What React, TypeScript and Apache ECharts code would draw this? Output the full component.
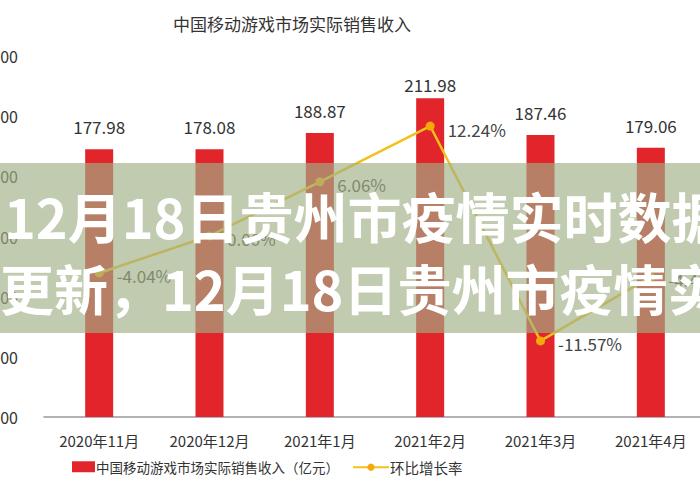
import React, { useEffect, useRef } from "react";
import * as echarts from "echarts";

const categories = ["2020年11月", "2020年12月", "2021年1月", "2021年2月", "2021年3月", "2021年4月"];
const revenue = [177.98, 178.08, 188.87, 211.98, 187.46, 179.06];
const growth = [-4.04, 0.06, 6.06, 12.24, -11.57, -4.48];
const leftTicks = { min: 0, max: 240, interval: 40 };
const titleText = "中国移动游戏市场实际销售收入";
const barName = "中国移动游戏市场实际销售收入（亿元）";
const lineName = "环比增长率";
const bannerLine1 = "12月18日贵州市疫情实时数据";
const bannerLine2 = "更新，12月18日贵州市疫情实";

const FONT = "'Noto Sans CJK SC', 'Noto Sans', sans-serif";

export default function App() {
  const ref = useRef<HTMLDivElement>(null);
  useEffect(() => {
    if (!ref.current) return;
    const chart = echarts.init(ref.current, null, { renderer: "svg" });
    chart.setOption({
      animation: false,
      backgroundColor: "#ffffff",
      textStyle: { fontFamily: FONT },
      title: {
        text: titleText,
        left: 168,
        top: 10,
        textStyle: { fontSize: 17, fontWeight: "normal", color: "#333", fontFamily: FONT },
      },
      legend: [
        {
          data: [barName],
          left: 72,
          top: 460,
          padding: 0,
          itemWidth: 23,
          itemHeight: 11,
          icon: "rect",
          textStyle: { fontSize: 13.5, color: "#333", fontFamily: FONT, padding: [0, 0, 0, -4] },
        },
        {
          data: [lineName],
          left: 352,
          top: 460,
          padding: 0,
          itemWidth: 36,
          itemHeight: 9,
          textStyle: { fontSize: 14.5, color: "#333", fontFamily: FONT, padding: [0, 0, 0, -4] },
        },
      ],
      grid: { left: 44, top: 56, width: 662, height: 361, outerBoundsMode: "none", containLabel: false },
      xAxis: {
        type: "category",
        data: categories,
        axisTick: { show: false },
        axisLine: { lineStyle: { color: "#9c96a0", width: 1.5 } },
        axisLabel: { color: "#333", fontSize: 15, margin: 16, fontFamily: FONT },
      },
      yAxis: [
        {
          type: "value",
          min: leftTicks.min,
          max: leftTicks.max,
          interval: leftTicks.interval,
          splitLine: { show: false },
          axisLine: { show: false },
          axisTick: { show: false },
          axisLabel: {
            color: "#333",
            fontSize: 16,
            margin: 26,
            formatter: (v: number) => v.toFixed(2),
          },
        },
        { type: "value", min: -20, max: 20, show: false },
      ],
      series: [
        {
          name: barName,
          type: "bar",
          data: revenue.map((v, i) => (i === 3 ? { value: v, label: { distance: 5 } } : v)),
          barWidth: 28,
          itemStyle: { color: "#e1252b" },
          label: {
            show: true,
            position: "top",
            distance: 14,
            color: "#333",
            fontSize: 17,
            fontFamily: FONT,
          },
        },
        {
          name: lineName,
          type: "line",
          yAxisIndex: 1,
          data: growth,
          symbol: "circle",
          symbolSize: 9,
          lineStyle: { color: "#f2c21c", width: 2.5 },
          itemStyle: { color: "#f5a80a" },
          label: {
            show: true,
            position: "right",
            offset: [8, 3],
            color: "#444",
            fontSize: 17,
            fontFamily: FONT,
            formatter: (p: any) => p.value.toFixed(2) + "%",
          },
          z: 3,
        },
      ],
      graphic: [
        {
          type: "rect",
          z: 100,
          shape: { x: 0, y: 163, width: 700, height: 170 },
          style: { fill: "rgba(158,175,134,0.65)" },
        },
        {
          type: "text",
          z: 101,
          x: 4,
          y: 215,
          style: {
            text: bannerLine1,
            fill: "#ffffff",
            font: "bold 54px " + FONT,
            verticalAlign: "middle",
          },
        },
        {
          type: "text",
          z: 101,
          x: 0,
          y: 287,
          style: {
            text: bannerLine2,
            fill: "#ffffff",
            font: "bold 54px " + FONT,
            verticalAlign: "middle",
          },
        },
      ],
    });
    return () => chart.dispose();
  }, []);
  return <div ref={ref} style={{ width: 700, height: 500, position: "absolute", left: 0, top: 0 }} />;
}
